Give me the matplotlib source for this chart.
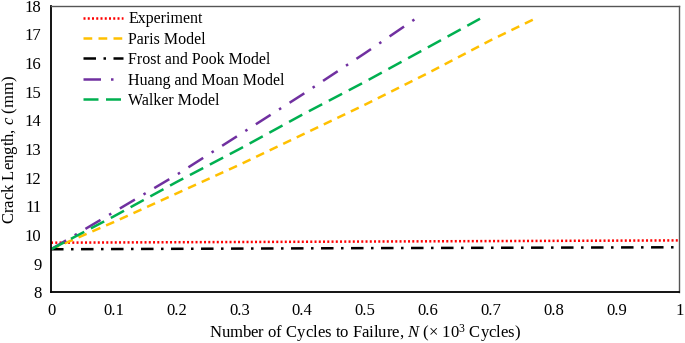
import matplotlib
matplotlib.use("Agg")
import matplotlib.pyplot as plt

plt.rcParams['font.family'] = ['Liberation Serif', 'DejaVu Serif']
plt.rcParams['mathtext.fontset'] = 'custom'
plt.rcParams['mathtext.rm'] = 'Liberation Serif'
plt.rcParams['mathtext.it'] = 'Liberation Serif:italic'

exp_x = [0.0, 0.25, 0.5, 0.75, 1.0]
exp_y = [9.73, 9.75, 9.77, 9.79, 9.81]

paris_x = [0.0, 0.1, 0.2, 0.3, 0.4, 0.5, 0.6, 0.7, 0.775]
paris_y = [9.5, 10.45, 11.45, 12.45, 13.5, 14.55, 15.65, 16.8, 17.6]

frost_x = [0.0, 0.25, 0.5, 0.75, 1.0]
frost_y = [9.5, 9.52, 9.54, 9.555, 9.57]

huang_x = [0.0, 0.1, 0.2, 0.3, 0.4, 0.5, 0.587]
huang_y = [9.5, 10.8, 12.1, 13.5, 14.9, 16.35, 17.65]

walker_x = [0.0, 0.1, 0.2, 0.3, 0.4, 0.5, 0.6, 0.683]
walker_y = [9.5, 10.65, 11.85, 13.0, 14.2, 15.35, 16.55, 17.55]

fig = plt.figure(figsize=(6.85, 3.43), dpi=100)
ax = fig.add_axes([0.0745, 0.148, 0.917, 0.835])

ax.plot(exp_x, exp_y, color='#FF0000', lw=1.8, linestyle=(0, (0.8, 0.9)), label='Experiment')
ax.plot(paris_x, paris_y, color='#FFC000', lw=1.8, linestyle=(0, (3.5, 2.5)), label='Paris Model')
ax.plot(frost_x, frost_y, color='#000000', lw=1.8, linestyle=(0, (5, 3, 1, 3)), label='Frost and Pook Model')
ax.plot(huang_x, huang_y, color='#7030A0', lw=1.8, linestyle=(0, (7, 4, 1, 4)), label='Huang and Moan Model')
ax.plot(walker_x, walker_y, color='#00B050', lw=1.8, linestyle=(0, (6, 3)), label='Walker Model')

ax.set_xlim(0, 1)
ax.set_ylim(8, 18)
ax.set_xticks([0, 0.1, 0.2, 0.3, 0.4, 0.5, 0.6, 0.7, 0.8, 0.9, 1])
ax.set_xticklabels(['0', '0.1', '0.2', '0.3', '0.4', '0.5', '0.6', '0.7', '0.8', '0.9', '1'])
ax.set_yticks(range(8, 19))
ax.tick_params(length=0, labelsize=12, pad=8)
ax.tick_params(axis='y', pad=7)

for s in ['top', 'right']:
    ax.spines[s].set_color('#555555')
    ax.spines[s].set_linewidth(1.0)
for s in ['left', 'bottom']:
    ax.spines[s].set_color('black')
    ax.spines[s].set_linewidth(1.3)

ax.set_xlabel(r'Number of Cycles to Failure, $\mathit{N}$ (× 10$^3$ Cycles)', fontsize=12, labelpad=2)
ax.set_ylabel(r'Crack Length, $\mathit{c}$ (mm)', fontsize=12, labelpad=3)

ax.legend(loc='upper left', bbox_to_anchor=(0.035, 1.015), frameon=False, fontsize=11.5,
          handlelength=2.5, handletextpad=0.35, labelspacing=0.28, borderaxespad=0.2)

fig.savefig('out.png', dpi=100)
